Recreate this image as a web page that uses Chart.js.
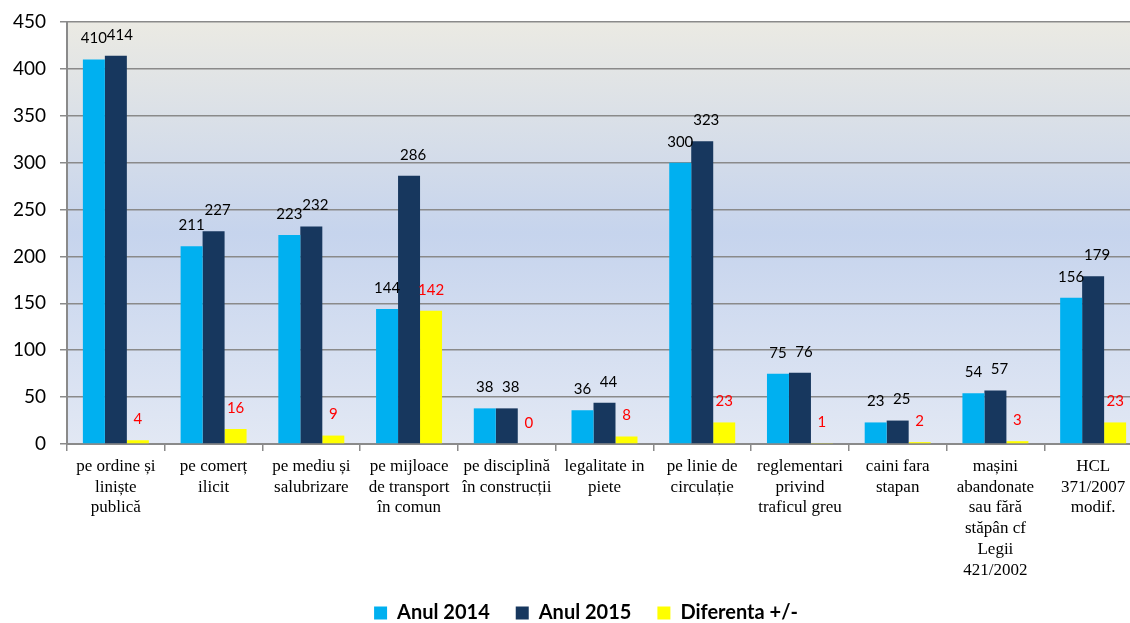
<!DOCTYPE html>
<html>
<head>
<meta charset="utf-8">
<script src="https://cdn.jsdelivr.net/npm/chart.js@4"></script>
<style>
  html, body { margin: 0; padding: 0; background: #fff; overflow: hidden; }
  #wrap { width: 1142px; height: 633px; }
</style>
</head>
<body>
<div id="wrap"><canvas id="chart"></canvas></div>
<script>
// categories (multi-line labels as in the original)
const categories = [
  ["pe ordine și", "liniște", "publică"],
  ["pe comerț", "ilicit"],
  ["pe mediu și", "salubrizare"],
  ["pe mijloace", "de transport", "în comun"],
  ["pe disciplină", "în construcții"],
  ["legalitate in", "piete"],
  ["pe linie de", "circulație"],
  ["reglementari", "privind", "traficul greu"],
  ["caini fara", "stapan"],
  ["mașini", "abandonate", "sau fără", "stăpân cf", "Legii", "421/2002"],
  ["HCL", "371/2007", "modif."]
];
const anul2014 = [410, 211, 223, 144, 38, 36, 300, 75, 23, 54, 156];
const anul2015 = [414, 227, 232, 286, 38, 44, 323, 76, 25, 57, 179];
const diferenta = [4, 16, 9, 142, 0, 8, 23, 1, 2, 3, 23];
const yTicks = [0, 50, 100, 150, 200, 250, 300, 350, 400, 450];

// plot background gradient
const bgPlugin = {
  id: "plotBg",
  beforeDraw(chart) {
    const { ctx, chartArea: a } = chart;
    const g = ctx.createLinearGradient(0, a.top, 0, a.bottom);
    g.addColorStop(0, "#ebeae3");
    g.addColorStop(0.5, "#c6d4ed");
    g.addColorStop(1, "#e2e8f4");
    ctx.save();
    ctx.fillStyle = g;
    ctx.fillRect(a.left, a.top, a.right - a.left, a.bottom - a.top);
    ctx.restore();
  }
};

// the original legend sits a bit right of centre
const legendShift = {
  id: "legendShift",
  afterLayout(chart) {
    chart.legend.left += 15;
    chart.legend.right += 15;
  }
};

// value labels above bars
const valueLabels = {
  id: "valueLabels",
  afterDatasetsDraw(chart) {
    const ctx = chart.ctx;
    ctx.save();
    ctx.font = "15px Lato";
    ctx.textAlign = "center";
    ctx.textBaseline = "middle";
    chart.data.datasets.forEach((ds, i) => {
      const meta = chart.getDatasetMeta(i);
      meta.data.forEach((bar, j) => {
        ctx.fillStyle = i === 2 ? "#ff0000" : "#000000";
        ctx.fillText(ds.data[j], bar.x + (i === 1 ? 4 : 0), bar.y - 21);
      });
    });
    ctx.restore();
  }
};

const ctx = document.getElementById("chart").getContext("2d");
new Chart(ctx, {
  type: "bar",
  data: {
    labels: categories,
    datasets: [
      { label: "Anul 2014", data: anul2014, backgroundColor: "#00b0f0" },
      { label: "Anul 2015", data: anul2015, backgroundColor: "#17375e" },
      { label: "Diferenta +/-", data: diferenta, backgroundColor: "#ffff00" }
    ]
  },
  options: {
    responsive: true,
    maintainAspectRatio: false,
    animation: false,
    datasets: { bar: { categoryPercentage: 0.675, barPercentage: 1 } },
    layout: { padding: { top: 10, left: 0, right: 0, bottom: 0 } },
    plugins: {
      tooltip: { enabled: false },
      legend: {
        position: "bottom",
        labels: {
          boxWidth: 13,
          boxHeight: 13,
          padding: 26,
          color: "#000",
          font: { family: "Lato", size: 20, weight: "bold" }
        }
      }
    },
    scales: {
      x: {
        afterFit: (s) => { s.height = 133; },
        grid: { offset: true, drawOnChartArea: false, drawTicks: true, tickLength: 7, color: "#8a8a8a", lineWidth: 1.5 },
        border: { color: "#8a8a8a", width: 2 },
        ticks: {
          color: "#000",
          padding: 5,
          maxRotation: 0,
          autoSkip: false,
          font: { family: "Liberation Serif", size: 17, lineHeight: 1.22 }
        }
      },
      y: {
        min: 0,
        max: 450,
        afterFit: (s) => { s.width = 67; },
        afterBuildTicks: (s) => { s.ticks = yTicks.map(v => ({ value: v })); },
        grid: { color: "#8a8a8a", lineWidth: 1.5, tickLength: 7 },
        border: { color: "#8a8a8a", width: 2 },
        ticks: {
          color: "#000",
          padding: 14,
          font: { family: "Lato", size: 19, lineHeight: 0.85 }
        }
      }
    }
  },
  plugins: [bgPlugin, legendShift, valueLabels]
});
</script>
</body>
</html>
